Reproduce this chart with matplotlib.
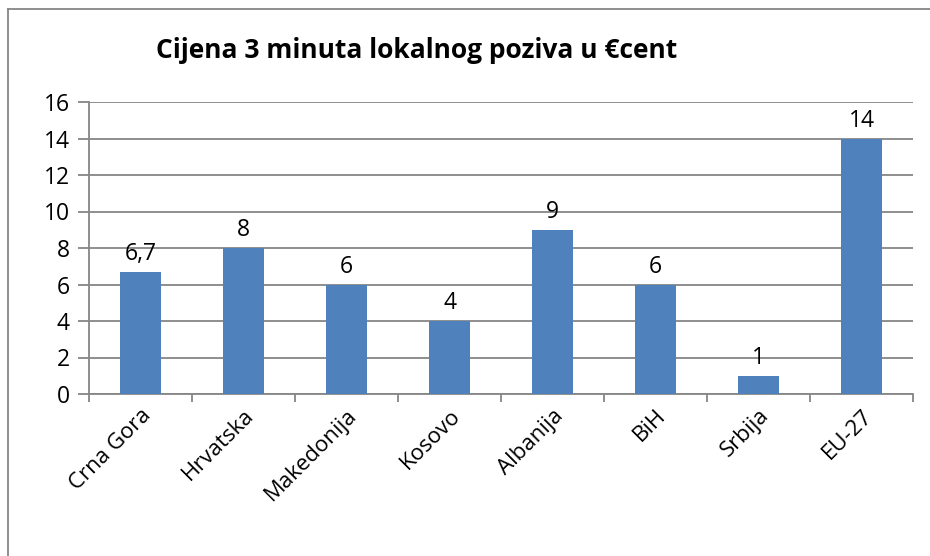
import matplotlib.pyplot as plt
from matplotlib.lines import Line2D

plt.rcParams['font.family'] = ['Open Sans', 'DejaVu Sans']

# podaci
zemlje = ['Crna Gora', 'Hrvatska', 'Makedonija', 'Kosovo', 'Albanija', 'BiH', 'Srbija', 'EU-27']
cijene = [6.7, 8, 6, 4, 9, 6, 1, 14]
oznake = ['6,7', '8', '6', '4', '9', '6', '1', '14']

fig = plt.figure(figsize=(9.3, 5.56), dpi=100)
ax = fig.add_axes([89 / 930, 1 - 394 / 556, (913 - 89) / 930, (394 - 102) / 556])

grid_c = '#868686'
x = range(len(zemlje))
ax.bar(x, cijene, width=0.4, color='#4F81BD', zorder=3)
for i, (v, t) in enumerate(zip(cijene, oznake)):
    ax.annotate(t, (i, v), xytext=(0, 4), textcoords='offset points',
                ha='center', va='bottom', fontsize=16.5)

ax.set_xlim(-0.5, len(zemlje) - 0.5)
ax.set_ylim(0, 16)
ax.set_yticks(range(0, 17, 2))
ax.yaxis.grid(True, color=grid_c, linewidth=1.3, zorder=0)
ax.set_xticks([i - 0.5 for i in range(len(zemlje) + 1)])
ax.set_xticklabels([])
ax.set_xticks(list(x), minor=True)
ax.set_xticklabels(zemlje, minor=True, rotation=45, ha='right', rotation_mode='anchor', fontsize=16)
ax.tick_params(axis='x', which='minor', length=0, pad=8)
ax.tick_params(axis='x', which='major', length=6, width=1.3, color=grid_c)
ax.tick_params(axis='y', length=8, width=1.3, color=grid_c, labelsize=16.5, pad=6)
for s in ['top', 'right']:
    ax.spines[s].set_visible(False)
for s in ['left', 'bottom']:
    ax.spines[s].set_color(grid_c)
    ax.spines[s].set_linewidth(1.3)

fig.text(417 / 930, 1 - 50 / 556, 'Cijena 3 minuta lokalnog poziva u €cent',
         ha='center', va='center', fontsize=19, fontweight='bold')

# okvir grafikona
fig.add_artist(Line2D([8 / 930, 8 / 930], [0, 1 - 9 / 556], color=grid_c, lw=1.3))
fig.add_artist(Line2D([8 / 930, 1], [1 - 9 / 556, 1 - 9 / 556], color=grid_c, lw=1.3))

fig.savefig('out.png', dpi=100)
